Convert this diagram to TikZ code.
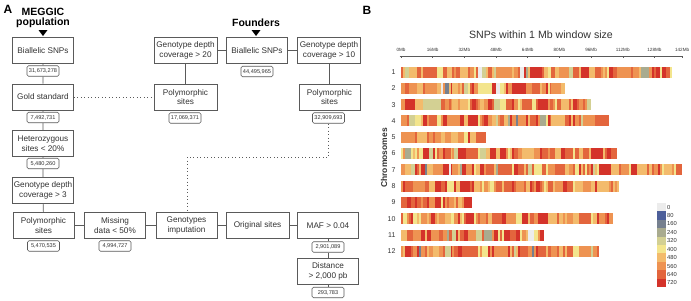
\documentclass[tikz,border=0pt]{standalone}
\usepackage{fontspec}
\setmainfont{Liberation Sans}
\usetikzlibrary{calc}
\definecolor{boxline}{HTML}{5A5A5A}
\definecolor{txt}{HTML}{333333}
\definecolor{col0}{HTML}{ECECEC}
\definecolor{colB}{HTML}{4D5F9A}
\definecolor{col1}{HTML}{76808F}
\definecolor{col2}{HTML}{A9AB8F}
\definecolor{col3}{HTML}{D3D093}
\definecolor{col4}{HTML}{F3E58D}
\definecolor{col5}{HTML}{F3BB6C}
\definecolor{col6}{HTML}{EE9352}
\definecolor{col7}{HTML}{E3653D}
\definecolor{col8}{HTML}{D4332A}
\tikzset{
  stepbox/.style={draw=boxline, line width=0.6pt, fill=white, minimum width=61pt, minimum height=26pt,
    inner sep=1pt, align=center, text=txt, font=\fontsize{8.2}{9.8}\selectfont},
  countbox/.style={draw=boxline, line width=0.6pt, fill=white, rounded corners=1.5pt, minimum width=32pt,
    minimum height=10.5pt, inner sep=0.5pt, text=txt, font=\fontsize{5.6}{6}\selectfont},
  link/.style={draw=boxline, line width=0.6pt},
  dotlink/.style={draw=boxline, line width=0.9pt, dash pattern=on 0.9pt off 2.6pt},
  title/.style={font=\fontsize{10.5}{11.5}\selectfont\bfseries, align=center, text=black},
  panel/.style={font=\fontsize{12}{12}\selectfont\bfseries, text=black},
  tri/.style={fill=black},
  ticklbl/.style={font=\fontsize{4.6}{5}\selectfont, text=txt},
  rowlbl/.style={font=\fontsize{7}{8}\selectfont, text=txt, anchor=east},
  leglbl/.style={font=\fontsize{5.8}{6}\selectfont, text=txt, anchor=west, inner sep=0.5pt},
}
\begin{document}
\begin{tikzpicture}[x=1pt,y=-1pt]
\useasboundingbox (0,0) rectangle (691,300);
\fill[white] (0,0) rectangle (691,300);

% ---------- Panel A ----------
\node[panel] (pa) at (8,9) {A};
\node[title] (tmeg) at (43,18) {MEGGIC\\[-1pt]population};
\node[title] (tfou) at (256,23) {Founders};
\fill[tri] (38.5,30) -- (47.5,30) -- (43,36) -- cycle;
\fill[tri] (251.5,30) -- (260.5,30) -- (256,36) -- cycle;

\node[stepbox] (bs1) at (43,50.5) {Biallelic SNPs};
\node[countbox] (c1) at (43,71) {31,673,278};
\node[stepbox] (gold) at (43,97) {Gold standard};
\node[countbox] (c2) at (43,117.5) {7,492,731};
\node[stepbox] (het) at (43,143.5) {Heterozygous\\sites < 20\%};
\node[countbox] (c3) at (43,163.5) {5,480,260};
\node[stepbox] (gd3) at (43,190.5) {Genotype depth\\coverage > 3};
\node[stepbox] (poly) at (43.5,225.5) {Polymorphic\\sites};
\node[countbox] (c4) at (43.5,246) {5,470,535};
\node[stepbox] (miss) at (115,225.5) {Missing\\data < 50\%};
\node[countbox] (c5) at (115,246) {4,994,727};
\node[stepbox] (imp) at (186.5,225.5) {Genotypes\\imputation};
\node[stepbox, minimum width=63pt] (orig) at (257.5,225.5) {Original sites};
\node[stepbox] (maf) at (328,225.5) {MAF > 0.04};
\node[countbox] (c6) at (328,247) {2,901,089};
\node[stepbox] (dist) at (328,271.5) {Distance\\> 2,000 pb};
\node[countbox] (c7) at (328,292.5) {293,783};

\node[stepbox, minimum width=63pt] (gd20) at (185.5,50.5) {Genotype depth\\coverage > 20};
\node[stepbox] (bs2) at (257,50.5) {Biallelic SNPs};
\node[countbox] (c8) at (257,71.5) {44,495,965};
\node[stepbox, minimum width=63pt] (gd10) at (329,50.5) {Genotype depth\\coverage > 10};
\node[stepbox, minimum width=63pt] (polyL) at (185.5,97) {Polymorphic\\sites};
\node[countbox] (c9) at (185,118) {17,069,371};
\node[stepbox] (polyR) at (329.5,97) {Polymorphic\\sites};
\node[countbox] (c10) at (328.5,118) {32,909,693};

\draw[link] (bs1) -- (c1) (c1) -- (gold) (gold) -- (c2) (c2) -- (het) (het) -- (c3) (c3) -- (gd3) (gd3) -- (poly);
\draw[link] (poly) -- (miss) (miss) -- (imp) (imp) -- (orig) (orig) -- (maf);
\draw[link] (maf) -- (c6) (c6) -- (dist) (dist) -- (c7);
\draw[link] (gd20) -- (bs2) (bs2) -- (gd10) (gd20) -- (polyL) (gd10.south -| polyR) -- (polyR);
\draw[dotlink] (gold.east) -- (polyL.west);
\coordinate (turn) at (187,157);
\draw[dotlink] (c10.south) |- (turn) -- (imp.north -| turn);

% ---------- Panel B ----------
\node[panel] (pb) at (367,10) {B};
\node[font=\fontsize{10.6}{11}\selectfont, text=txt] (htitle) at (541,35) {SNPs within 1 Mb window size};

% axis
\coordinate (ax0) at (399.5,56);
\coordinate (ax1) at (682.5,56);
\draw[boxline, line width=0.5pt] (ax0) -- (ax1);
\foreach \v in {0,16,32,48,64,80,96,112,128,142} {
  \pgfmathsetmacro\xx{401+1.98*\v}
  \draw[boxline, line width=0.5pt] (\xx,56) -- (\xx,58);
  \node[ticklbl] at (\xx,50) {\v Mb};
}

% chromosome bars
\pgfmathsetseed{11}
\foreach \len [count=\i] in {137,83,96,105,43,109,142,110,36,107,72,100} {
  \pgfmathsetmacro\yy{72+(\i-1)*16.3}
  \node[rowlbl] at (399,\yy) {\i};
  \xdef\prev{6}
  \foreach \m in {1,...,\len} {
    \pgfmathsetmacro\rv{rnd}
    \pgfmathsetmacro\kp{rnd}
    \pgfmathtruncatemacro\cc{(\rv>0.008)+(\rv>0.012)+(\rv>0.02)+(\rv>0.05)+(\rv>0.16)+(\rv>0.36)+(\rv>0.60)+(\rv>0.84)}
    \pgfmathtruncatemacro\cc{\kp<0.4 ? \prev : \cc}
    \xdef\prev{\cc}
    \pgfmathsetmacro\xx{401+1.98*(\m-1)}
    \fill[col\cc] (\xx,\yy-5.5) rectangle ++(2.08,11);
  }
}
\node[font=\fontsize{8.5}{9}\selectfont\bfseries, text=txt, rotate=90] (chrom) at (384,158) {Chromosomes};

% legend
\foreach \cn/\lab [count=\j] in {col0/0,colB/80,col1/160,col2/240,col3/320,col4/400,col5/480,col6/560,col7/640,col8/720} {
  \pgfmathsetmacro\ly{203+(\j-1)*8.4}
  \fill[\cn] (657,\ly) rectangle ++(8.5,8.5);
  \node[leglbl] at (666.5,\ly+4.2) {\lab};
}
\end{tikzpicture}
\end{document}
